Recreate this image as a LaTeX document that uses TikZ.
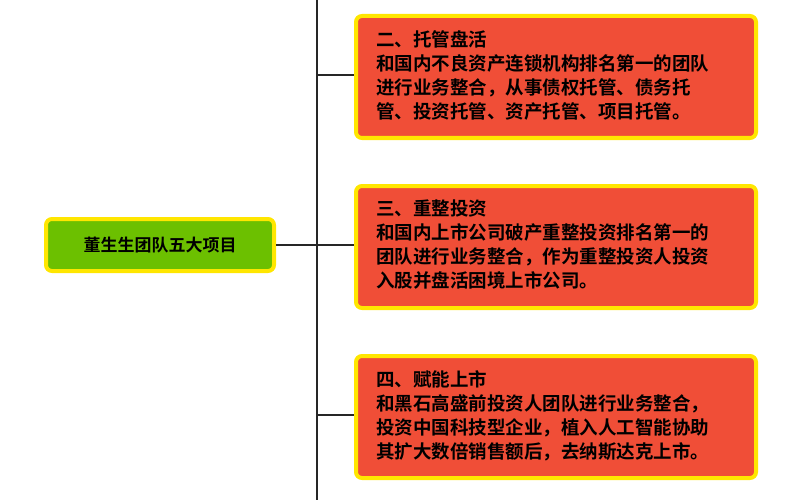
\documentclass[tikz,border=0pt]{standalone}
\usepackage{fontspec}
\newfontfamily\cjk{Noto Sans CJK SC}[BoldFont={Noto Sans CJK SC Bold}]
\definecolor{boxred}{HTML}{F04E37}
\definecolor{boxyel}{HTML}{FFE600}
\definecolor{boxgreen}{HTML}{6CC000}
\tikzset{x=1pt,y=-1pt,
  redbox/.style={draw=boxyel,line width=4pt,fill=boxred,rounded corners=6pt,minimum width=400pt,minimum height=122pt,anchor=north west,inner sep=0pt},
  greenbox/.style={draw=boxyel,line width=4pt,fill=boxgreen,rounded corners=6pt,minimum width=228pt,minimum height=52pt,font=\cjk\bfseries\fontsize{17}{20}\selectfont},
  txt/.style={anchor=north west,align=left,font=\cjk\bfseries\fontsize{18.5}{24}\selectfont,inner sep=0pt},
  conn/.style={line width=2.2pt,black!85}}
\begin{document}
\begin{tikzpicture}
\useasboundingbox (0,0) rectangle (800,500);
\coordinate (top) at (317,0);
\coordinate (bot) at (317,500);
\coordinate (j1) at (317,75);
\coordinate (j2) at (317,245);
\coordinate (j3) at (317,415);
\draw[conn] (top) -- (bot);
\node[greenbox] (g) at (160,245) {董生生团队五大项目};
\node[redbox] (b1) at (354,14) {};
\node[redbox] (b2) at (354,184) {};
\node[redbox] (b3) at (354,354) {};
\draw[conn] (g.east) -- (j2);
\draw[conn] (j1) -- (b1.west|-j1);
\draw[conn] (j2) -- (b2.west|-j2);
\draw[conn] (j3) -- (b3.west|-j3);
\node[txt] (t1) at (376,30) {二、托管盘活\\和国内不良资产连锁机构排名第一的团队\\进行业务整合，从事债权托管、债务托\\管、投资托管、资产托管、项目托管。};
\node[txt] (t2) at (376,200) {三、重整投资\\和国内上市公司破产重整投资排名第一的\\团队进行业务整合，作为重整投资人投资\\入股并盘活困境上市公司。};
\node[txt] (t3) at (376,370) {四、赋能上市\\和黑石高盛前投资人团队进行业务整合，\\投资中国科技型企业，植入人工智能协助\\其扩大数倍销售额后，去纳斯达克上市。};
\end{tikzpicture}
\end{document}
